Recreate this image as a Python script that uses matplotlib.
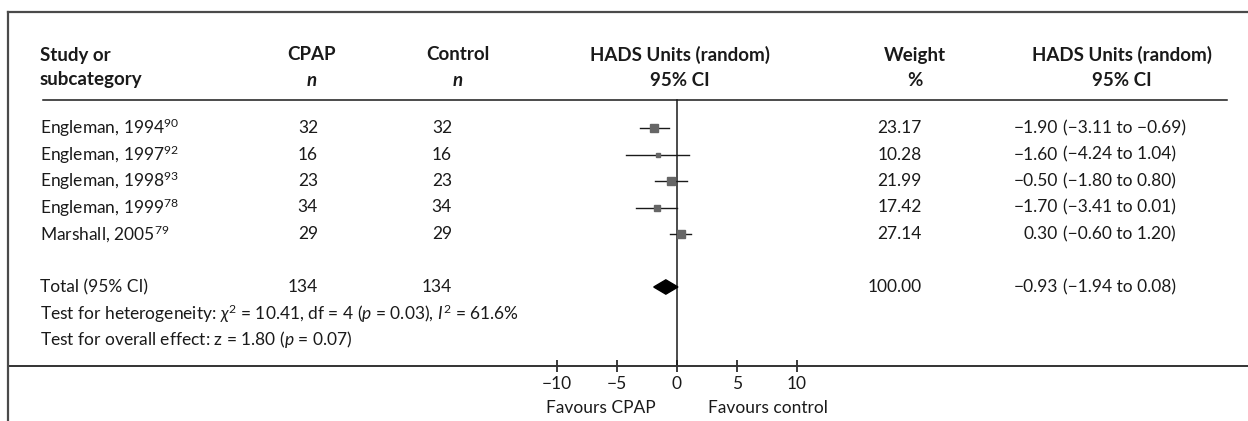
"""Forest plot: CPAP vs control, HADS units (random effects)."""
import matplotlib
matplotlib.use("Agg")
import matplotlib.pyplot as plt
from matplotlib import transforms
from matplotlib.patches import Polygon

plt.rcParams["font.family"] = ["Lato", "DejaVu Sans"]
plt.rcParams["mathtext.fontset"] = "custom"
plt.rcParams["mathtext.rm"] = "Lato"
plt.rcParams["mathtext.it"] = "Lato:italic"
plt.rcParams["mathtext.bf"] = "Lato:bold"

# data
studies = ["Engleman, 1994", "Engleman, 1997", "Engleman, 1998", "Engleman, 1999", "Marshall, 2005"]
refs = ["90", "92", "93", "78", "79"]
cpap_n = [32, 16, 23, 34, 29]
control_n = [32, 16, 23, 34, 29]
est = [-1.90, -1.60, -0.50, -1.70, 0.30]
ci_lo = [-3.11, -4.24, -1.80, -3.41, -0.60]
ci_hi = [-0.69, 1.04, 0.80, 0.01, 1.20]
weights = [23.17, 10.28, 21.99, 17.42, 27.14]

total_cpap, total_control = 134, 134
total_est, total_lo, total_hi, total_weight = -0.93, -1.94, 0.08, 100.00
het_text = r"Test for heterogeneity: $\chi^2$ = 10.41, df = 4 ($p$ = 0.03), $I^2$ = 61.6%"
overall_text = r"Test for overall effect: z = 1.80 ($p$ = 0.07)"
xticks = [-10, -5, 0, 5, 10]

W, H = 1248, 421
fig = plt.figure(figsize=(W / 100, H / 100), dpi=100, facecolor="white")
ax = fig.add_axes([0, 0, 1, 1])
# 0 at 677 px, 12 px per unit; rows 26.5 px apart starting at 128 px
X0, SX = 677, 12.0
Y0, SY = 128, 26.5
ax.set_xlim(-X0 / SX, (W - X0) / SX)
ax.set_ylim((H - Y0) / SY, -Y0 / SY)
for s in ["top", "left", "right"]:
    ax.spines[s].set_visible(False)
ax.set_yticks([])
ax.patch.set_visible(False)


def row(py):
    return (py - Y0) / SY


def fx(px):
    return px / W


# columns: x in figure fraction, y in row units
tr = transforms.blended_transform_factory(fig.transFigure, ax.transData)

fs = 12.5
dark = "#1a1a1a"

# frame lines
fig.add_artist(plt.Line2D([fx(8), 1], [1 - 12 / H, 1 - 12 / H], color="#4a4a4a", lw=1.6))
fig.add_artist(plt.Line2D([fx(8), fx(8)], [0, 1 - 12 / H], color="#4a4a4a", lw=1.6))
ax.plot([fx(43), fx(1227)], [row(100)] * 2, transform=tr, color=dark, lw=1.1)

# bottom axis
ax.spines["bottom"].set_position(("data", row(366)))
ax.spines["bottom"].set_bounds((8 - X0) / SX, (W - X0) / SX)
ax.spines["bottom"].set_color("#333333")
ax.spines["bottom"].set_linewidth(1.4)
ax.set_xticks(xticks)
ax.set_xticklabels([f"{t}".replace("-", "\u2212") for t in xticks], fontsize=fs)
ax.tick_params(axis="x", direction="inout", length=9, width=1.2, pad=3, colors=dark)

# headers
hy1, hy2 = row(55), row(80)
hdr = dict(fontsize=13.5, fontweight="bold", color=dark, va="center", transform=tr)
ax.text(fx(40), hy1, "Study or", ha="left", **hdr)
ax.text(fx(40), hy2, "subcategory", ha="left", **hdr)
ax.text(fx(312), hy1, "CPAP", ha="center", **hdr)
ax.text(fx(312), hy2, "n", ha="center", style="italic", **hdr)
ax.text(fx(458), hy1, "Control", ha="center", **hdr)
ax.text(fx(458), hy2, "n", ha="center", style="italic", **hdr)
ax.text(fx(680), hy1, "HADS Units (random)", ha="center", **hdr)
ax.text(fx(680), hy2, "95% CI", ha="center", **hdr)
ax.text(fx(915), hy1, "Weight", ha="center", **hdr)
ax.text(fx(915), hy2, "%", ha="center", **hdr)
ax.text(fx(1122), hy1, "HADS Units (random)", ha="center", **hdr)
ax.text(fx(1122), hy2, "95% CI", ha="center", **hdr)


def m(v):
    return f"{v:.2f}".replace("-", "\u2212")


body = dict(fontsize=fs, color=dark, va="center", transform=tr)
for i, name in enumerate(studies):
    ax.text(fx(40), i, f"{name}$^{{{refs[i]}}}$", ha="left", **body)
    ax.text(fx(318), i, str(cpap_n[i]), ha="right", **body)
    ax.text(fx(452), i, str(control_n[i]), ha="right", **body)
    ax.text(fx(922), i, f"{weights[i]:.2f}", ha="right", **body)
    ax.text(fx(1058), i, m(est[i]), ha="right", **body)
    ax.text(fx(1063), i, f"({m(ci_lo[i])} to {m(ci_hi[i])})", ha="left", **body)
    ax.plot([ci_lo[i], ci_hi[i]], [i, i], color=dark, lw=1.0, zorder=3)
    ax.plot(est[i], i, marker="s", color="#666666", ms=3.4 * (weights[i] / 10) ** 0.5,
            mec="#666666", zorder=4)

ty = len(studies) + 1
ax.text(fx(40), ty, "Total (95% CI)", ha="left", **body)
ax.text(fx(318), ty, str(total_cpap), ha="right", **body)
ax.text(fx(452), ty, str(total_control), ha="right", **body)
ax.text(fx(922), ty, f"{total_weight:.2f}", ha="right", **body)
ax.text(fx(1058), ty, m(total_est), ha="right", **body)
ax.text(fx(1063), ty, f"({m(total_lo)} to {m(total_hi)})", ha="left", **body)
ax.add_patch(Polygon([(total_lo, ty), (total_est, ty - 0.27), (total_hi, ty), (total_est, ty + 0.27)],
                     closed=True, color="black", zorder=4))
ax.text(fx(40), ty + 1, het_text, ha="left", **body)
ax.text(fx(40), ty + 2, overall_text, ha="left", **body)

# line of no effect
ax.plot([0, 0], [row(100), row(366)], color=dark, lw=1.1, zorder=2)

ax.text(-1.8, row(408), "Favours CPAP", ha="right", va="center", fontsize=fs, color=dark)
ax.text(2.6, row(408), "Favours control", ha="left", va="center", fontsize=fs, color=dark)

fig.savefig("out.png", dpi=100, facecolor="white")
